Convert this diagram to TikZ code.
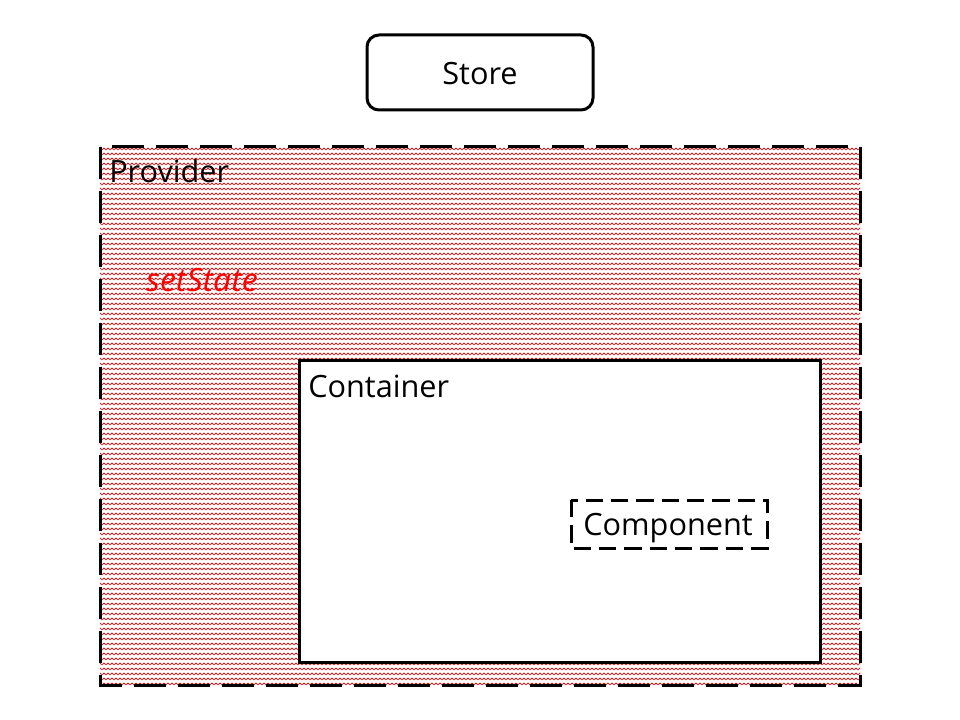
\documentclass[tikz,border=0pt]{standalone}
\usepackage{fontspec}
\setmainfont{Open Sans}
\usetikzlibrary{patterns}
\pgfdeclarepatternformonly{zigzagred}{\pgfpoint{-1pt}{-1pt}}{\pgfpoint{4pt}{4.75pt}}{\pgfpoint{3pt}{3.75pt}}{%
  \pgfsetlinewidth{0.4pt}%
  \pgfpathmoveto{\pgfpoint{-0.75pt}{0.75pt}}%
  \pgfpathlineto{\pgfpoint{0pt}{1.5pt}}%
  \pgfpathlineto{\pgfpoint{1.5pt}{0pt}}%
  \pgfpathlineto{\pgfpoint{3pt}{1.5pt}}%
  \pgfpathlineto{\pgfpoint{3.75pt}{0.75pt}}%
  \pgfusepath{stroke}%
}
\tikzset{
  lbl/.style={font=\fontsize{23pt}{27pt}\selectfont, inner sep=0pt},
  storebox/.style={draw, line width=2.25pt, rounded corners=9pt},
  provbox/.style={draw, line width=2.25pt, dash pattern=on 24pt off 9pt, pattern=zigzagred, pattern color=red},
  contbox/.style={draw, line width=2.25pt, fill=white},
  compbox/.style={draw, line width=2.25pt, dash pattern=on 13pt off 6pt}
}
\begin{document}
\begin{tikzpicture}[x=0.75pt, y=-0.75pt]
\useasboundingbox (0,0) rectangle (960,720);
\draw[storebox] (367,35) rectangle (593,110);
\node[lbl] (store) at (480,74) {Store};
\draw[provbox] (100,147) rectangle (860,685);
\node[lbl, anchor=west] (provider) at (109,171) {Provider};
\node[lbl, red, font=\fontsize{24pt}{28pt}\selectfont\itshape] (setstate) at (202,280) {setState};
\draw[contbox] (299,360) rectangle (820,662);
\node[lbl, anchor=west] (container) at (308,386) {Container};
\draw[compbox] (571,500) rectangle (767,548);
\node[lbl] (component) at (668,528) {Component};
\end{tikzpicture}
\end{document}
